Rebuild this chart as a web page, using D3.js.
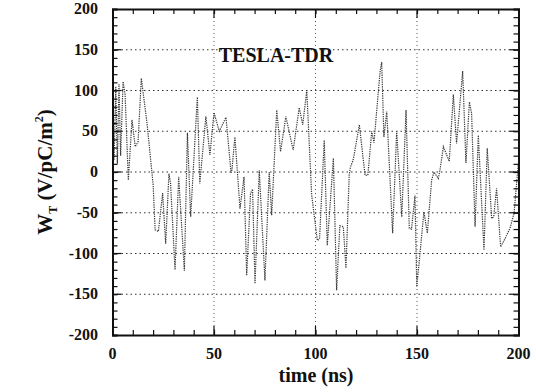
<!DOCTYPE html>
<html>
<head>
<meta charset="utf-8">
<script src="https://cdn.jsdelivr.net/npm/d3@7"></script>
<style>
body { margin: 0; background: #fff; }
</style>
</head>
<body>
<div id="chart"></div>
<script>
// wake potential, time in ns
var times = [0.8, 1.6, 2.4, 3.2, 4.0, 5.2, 6.2, 7.8, 9.6, 11.2, 12.6, 14.2, 17, 20, 21, 22.6, 24.7, 26.2, 27.8, 28.6, 30.8, 32.6, 35.4, 36.9, 38.5, 41.8, 43, 46, 48, 50, 52.6, 55.9, 58.4, 58.8, 60.3, 62.8, 64.8, 66.1, 68, 69, 70.2, 72.3, 75.1, 77.2, 78.4, 80.9, 82.8, 85.4, 89, 92, 93.7, 95.7, 98.1, 100.9, 102, 104.3, 105.8, 108.8, 110.4, 112, 113.7, 115, 116.6, 117.2, 118.6, 121.6, 124.4, 125.8, 127.7, 128.8, 131.8, 132.6, 133.7, 135.1, 138, 140, 142.5, 144.6, 146.2, 147.3, 149, 149.9, 153.4, 155.1, 157.2, 158.4, 160.5, 161.3, 163, 165.9, 167.9, 169.5, 172.5, 174.1, 175.8, 176.9, 178.6, 180.2, 183, 184.6, 186.8, 187.8, 189.2, 191.2, 193.3, 195.8, 197.8, 199.9];
var wake = [15, 105, 10, 108, 20, 111, 95, -10, 64, 31, 37, 115, 60, -15, -71, -73, -26, -88, -2, -14, -120, -6, -121, 48, -55, 92, -14, 68, 21, 73, 50, 67, -1, 2, 43, -45, -6, -127, -26, -21, -137, 2, -133, 0, -53, 76, 25, 68, 27, 79, 58, 100, -28, -84, -82, 39, -90, 17, -145, -66, -67, -118, -4, 6, 15, 58, -4, -4, 50, 36, 123, 135, 43, 74, -75, 50, -55, 76, -69, -70, -29, -141, -49, -75, -10, 0, -8, 2, 31, 13, 95, 35, 124, 11, 86, 72, -67, 45, -96, 29, -57, -55, -20, -92, -82, -69, -51, 10];
var xTicks = [0, 50, 100, 150, 200];
var yTicks = [-200, -150, -100, -50, 0, 50, 100, 150, 200];
var gridX = [50, 100, 150];
var gridY = [-150, -100, -50, 0, 50, 100, 150];

var width = 536, height = 392;
var padLeft = 112.5, padRight = 518.5, padTop = 9, padBottom = 335;
var serif = "'Liberation Serif', 'Times New Roman', Times, 'DejaVu Serif', serif";

var svg = d3.select("#chart").append("svg")
    .attr("width", width)
    .attr("height", height);

var x = d3.scaleLinear().domain([0, 200]).range([padLeft, padRight]);
var y = d3.scaleLinear().domain([-200, 200]).range([padBottom, padTop]);

// dotted grid
svg.append("g").selectAll("line").data(gridY).enter().append("line")
    .attr("x1", padLeft).attr("x2", padRight)
    .attr("y1", function(d){ return y(d); })
    .attr("y2", function(d){ return y(d); })
    .attr("stroke", "#333").attr("stroke-width", 1)
    .attr("stroke-dasharray", "1.5,3");
svg.append("g").selectAll("line").data(gridX).enter().append("line")
    .attr("y1", padTop).attr("y2", padBottom)
    .attr("x1", function(d){ return x(d); })
    .attr("x2", function(d){ return x(d); })
    .attr("stroke", "#555").attr("stroke-width", 1)
    .attr("stroke-dasharray", "1,3");

// the wake line
var pts = times.map(function(t, i){ return [t, wake[i]]; });
var line = d3.line()
    .x(function(d){ return x(d[0]); })
    .y(function(d){ return y(d[1]); });
svg.append("path")
    .datum(pts)
    .attr("d", line)
    .attr("fill", "none")
    .attr("stroke", "#3a3a3a")
    .attr("stroke-width", 1.2)
    .attr("stroke-dasharray", "1.3,1");

// axes with inward ticks on all four sides
var minorX = d3.range(0, 201, 10);
var minorY = d3.range(-200, 201, 10);
var xb = svg.append("g").attr("transform", "translate(0," + padBottom + ")")
    .call(d3.axisBottom(x).tickValues(minorX).tickSize(-5).tickFormat(""));
var xt = svg.append("g").attr("transform", "translate(0," + padTop + ")")
    .call(d3.axisTop(x).tickValues(minorX).tickSize(-5).tickFormat(""));
var yl = svg.append("g").attr("transform", "translate(" + padLeft + ",0)")
    .call(d3.axisLeft(y).tickValues(minorY).tickSize(-5).tickFormat(""));
var yr = svg.append("g").attr("transform", "translate(" + padRight + ",0)")
    .call(d3.axisRight(y).tickValues(minorY).tickSize(-5).tickFormat(""));
[xb, xt, yl, yr].forEach(function(g){
    g.select(".domain").attr("stroke", "#111").attr("stroke-width", 2);
    g.selectAll(".tick line").attr("stroke", "#111").attr("stroke-width", 1.2);
});
// longer major ticks
svg.append("g").selectAll("line").data(gridX).enter().append("line")
    .attr("x1", function(d){ return x(d); }).attr("x2", function(d){ return x(d); })
    .attr("y1", padBottom).attr("y2", padBottom - 9)
    .attr("stroke", "#111").attr("stroke-width", 1.2);
svg.append("g").selectAll("line").data(gridX).enter().append("line")
    .attr("x1", function(d){ return x(d); }).attr("x2", function(d){ return x(d); })
    .attr("y1", padTop).attr("y2", padTop + 9)
    .attr("stroke", "#111").attr("stroke-width", 1.2);
svg.append("g").selectAll("line").data(gridY).enter().append("line")
    .attr("x1", padLeft).attr("x2", padLeft + 9)
    .attr("y1", function(d){ return y(d); }).attr("y2", function(d){ return y(d); })
    .attr("stroke", "#111").attr("stroke-width", 1.2);
svg.append("g").selectAll("line").data(gridY).enter().append("line")
    .attr("x1", padRight).attr("x2", padRight - 9)
    .attr("y1", function(d){ return y(d); }).attr("y2", function(d){ return y(d); })
    .attr("stroke", "#111").attr("stroke-width", 1.2);

var labels = svg.append("g")
    .style("font-family", serif)
    .style("font-weight", "bold")
    .style("fill", "#111");

// tick labels
labels.append("g").selectAll("text").data(xTicks).enter().append("text")
    .attr("x", function(d){ return x(d); })
    .attr("y", 359)
    .attr("text-anchor", "middle")
    .attr("font-size", 16)
    .text(function(d){ return d; });
labels.append("g").selectAll("text").data(yTicks).enter().append("text")
    .attr("x", 98)
    .attr("y", function(d){ return y(d) + 5; })
    .attr("text-anchor", "end")
    .attr("font-size", 16)
    .text(function(d){ return d; });

// axis titles
labels.append("text")
    .attr("x", 316).attr("y", 382)
    .attr("text-anchor", "middle")
    .attr("font-size", 20)
    .text("time (ns)");

var ylab = labels.append("text")
    .attr("transform", "translate(52," + 172 + ")rotate(-90)")
    .attr("text-anchor", "middle")
    .attr("font-size", 21);
ylab.append("tspan").text("W");
ylab.append("tspan").attr("font-size", 12).attr("dy", 5).text("T");
ylab.append("tspan").attr("dy", -5).text(" (V/pC/m");
ylab.append("tspan").attr("font-size", 12).attr("dy", -9).text("2");
ylab.append("tspan").attr("dy", 9).text(")");

labels.append("text")
    .attr("x", 276).attr("y", 62)
    .attr("text-anchor", "middle")
    .attr("font-size", 20)
    .text("TESLA-TDR");
</script>
</body>
</html>
